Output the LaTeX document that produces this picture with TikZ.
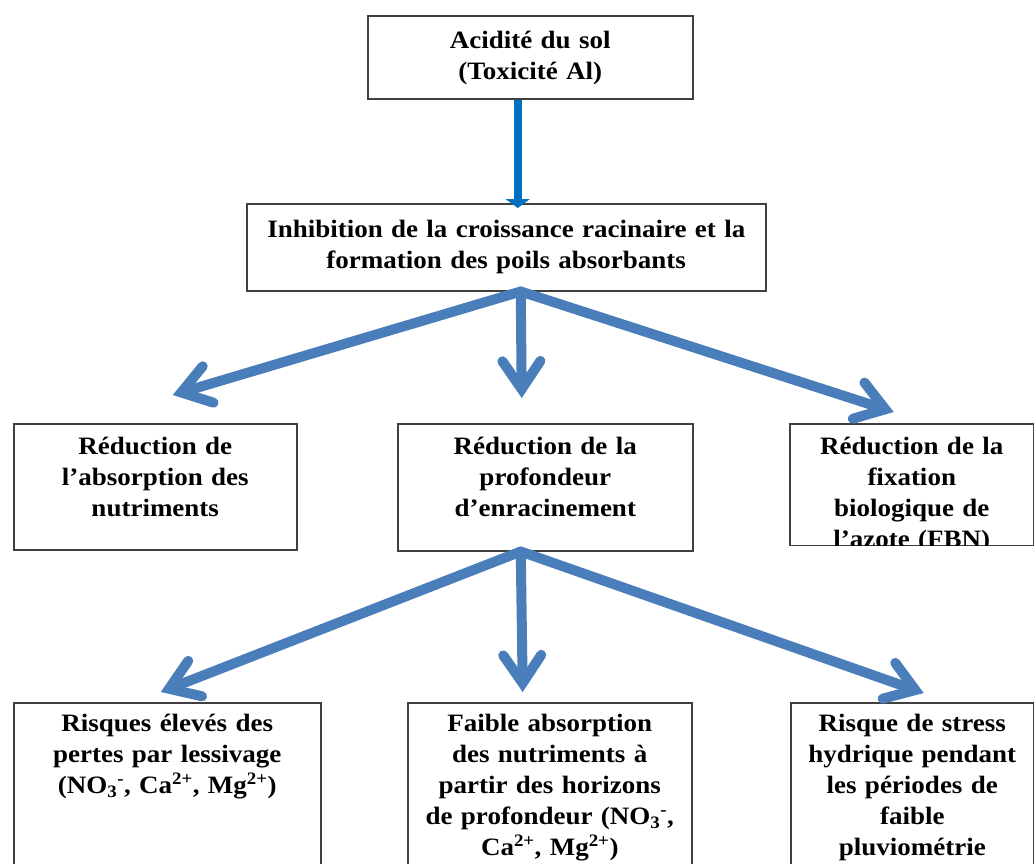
\documentclass[tikz,border=0pt]{standalone}
\usepackage{fontspec}
\setmainfont{Liberation Serif}[FakeStretch=1.08]
\usepackage{xcolor}
\usepackage{tikz}
\usetikzlibrary{arrows.meta}
\definecolor{flowblue}{HTML}{4A7EBB}
\definecolor{topblue}{HTML}{0070C0}

\begin{document}
\begin{tikzpicture}[
    x=1pt, y=-1pt,
    box/.style={rectangle, draw=black!75, line width=1.5pt, inner sep=6pt, text height=23pt, align=center, anchor=north west, font=\fontsize{25}{31}\selectfont\bfseries},
    arrow/.style={draw=flowblue, line width=10pt, line cap=round, -{Straight Barb[length=28pt, width=38pt, line cap=round]}},
    toparrow/.style={draw=topblue, line width=8pt, -{Triangle[length=9pt, width=24pt]}}
]
    \useasboundingbox (0,0) rectangle (1034,863);
    \clip (0,0) rectangle (1034,863);

    \node[box, text width=313pt, text height=27pt, text depth=44pt] (acid) at (367,15) {Acidité du sol\\(Toxicité Al)};
    \node[box, text width=507pt, text height=28pt, text depth=47pt] (inhib) at (246,203) {Inhibition de la croissance racinaire et la\\formation des poils absorbants};
    \node[box, text width=271pt, text height=25pt, text depth=89pt] (absn) at (13,423) {Réduction de\\l’absorption des\\nutriments};
    \node[box, text width=283pt, text height=25pt, text depth=90pt] (prof) at (397,423) {Réduction de la\\profondeur\\d’enracinement};
    \begin{scope}
        \clip (780,415) rectangle (1034,545.7);
        \node[box, text width=232pt, text height=25pt, text depth=85pt] (fbn) at (789,423) {Réduction de la\\fixation\\biologique de\\l’azote (FBN)};
    \end{scope}
    \node[box, text width=295pt, text depth=165pt] (lessiv) at (13,702) {Risques élevés des\\pertes par lessivage\\(NO\textsubscript{3}\textsuperscript{-}, Ca\textsuperscript{2+}, Mg\textsuperscript{2+})};
    \node[box, text width=272pt, text depth=165pt] (faible) at (407,702) {Faible absorption\\des nutriments à\\partir des horizons\\de profondeur (NO\textsubscript{3}\textsuperscript{-},\\Ca\textsuperscript{2+}, Mg\textsuperscript{2+})};
    \node[box, text width=231pt, text depth=165pt] (stress) at (790,702) {Risque de stress\\hydrique pendant\\les périodes de\\faible\\pluviométrie};

    \draw[toparrow] ([xshift=-12.5pt]acid.south) -- ([xshift=11.5pt, yshift=-5pt]inhib.north);

    \draw[arrow] ([xshift=14.5pt]inhib.south) -- ([xshift=17.5pt, yshift=28pt]absn.north);
    \draw[arrow] ([xshift=14.5pt]inhib.south) -- ([xshift=-23.5pt, yshift=25pt]prof.north);
    \draw[arrow] ([xshift=14.5pt]inhib.south) -- ([xshift=-18pt, yshift=11pt]fbn.north);

    \draw[arrow] ([xshift=-24.5pt]prof.south) -- ([xshift=-6.5pt, yshift=10pt]lessiv.north);
    \draw[arrow] ([xshift=-24.5pt]prof.south) -- ([xshift=-27pt, yshift=10pt]faible.north);
    \draw[arrow] ([xshift=-24.5pt]prof.south) -- ([xshift=11.5pt, yshift=9pt]stress.north);
\end{tikzpicture}
\end{document}
